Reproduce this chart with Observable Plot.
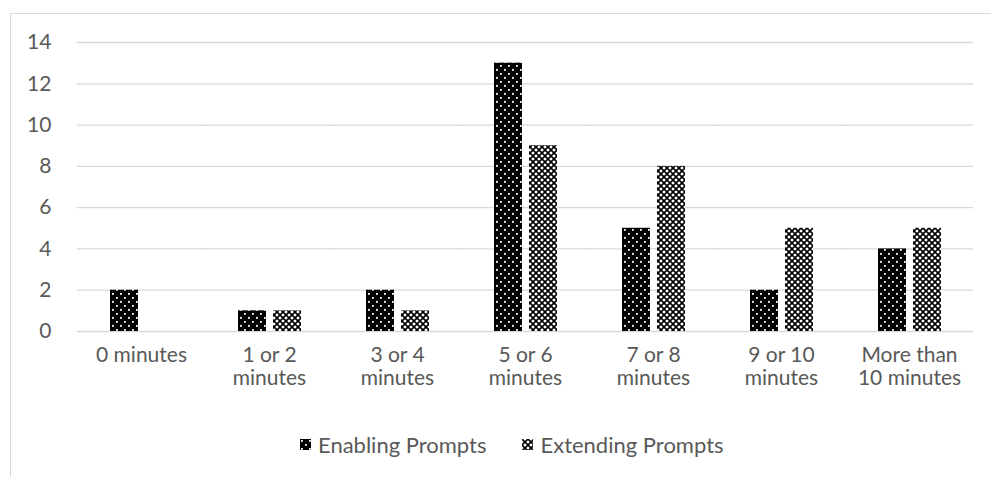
<!DOCTYPE html>
<html><head><meta charset="utf-8">
<script src="https://cdn.jsdelivr.net/npm/d3@7"></script>
<script src="https://cdn.jsdelivr.net/npm/@observablehq/plot@0.6"></script>
<style>
body{margin:0;background:#fff;font-family:Lato,"Open Sans",sans-serif;}
#wrap{position:relative;width:991px;height:477px;overflow:hidden;background:#fff;}
#frame{position:absolute;left:10px;top:13px;width:990px;height:480px;border-left:1px solid #d9d9d9;border-top:1px solid #d9d9d9;}
#chart{position:absolute;left:0;top:0;}
#legend{position:absolute;top:431px;left:300px;display:flex;align-items:center;font-size:22px;color:#595959;white-space:nowrap;}
#legend .item{display:flex;align-items:center;}
#legend .item + .item{margin-left:36px;}
#legend svg{margin-right:7px;}
</style></head>
<body>
<div id="wrap"><div id="frame"></div><div id="chart"></div><div id="legend"></div></div>
<script>
const categories = ["0 minutes", "1 or 2\nminutes", "3 or 4\nminutes", "5 or 6\nminutes", "7 or 8\nminutes", "9 or 10\nminutes", "More than\n10 minutes"];
const series = ["Enabling Prompts", "Extending Prompts"];
const enabling = [2, 1, 2, 13, 5, 2, 4];
const extending = [0, 1, 1, 9, 8, 5, 5];
const yTicks = [0, 2, 4, 6, 8, 10, 12, 14];

const patternIds = {"Enabling Prompts": "url(#dots)", "Extending Prompts": "url(#hatch)"};
const data = categories.flatMap((c, i) => [
  {category: c, series: series[0], value: enabling[i]},
  {category: c, series: series[1], value: extending[i]}
]);

const W = 991, ML = 74, MR = 16;
const halfGap = (W - ML - MR) / categories.length / 4;

const plot = Plot.plot({
  width: W,
  height: 420,
  marginLeft: ML,
  marginRight: MR,
  marginTop: 42,
  marginBottom: 89,
  style: {fontFamily: "Lato, 'Open Sans', sans-serif", fontSize: "21px", color: "#595959", background: "transparent"},
  fx: {domain: categories, paddingInner: 0.5, paddingOuter: 0.25, label: null},
  x: {domain: series, axis: null, paddingInner: 0.2, paddingOuter: 0},
  y: {domain: [0, 14], label: null},
  marks: [
    Plot.ruleY(yTicks, {y: d => d, stroke: "#d9d9d9", strokeWidth: 1.3, insetLeft: -halfGap, insetRight: -halfGap}),
    Plot.barY(data, {fx: "category", x: "series", y: "value", fill: d => patternIds[d.series]}),
    Plot.axisY(yTicks, {tickSize: 0, tickPadding: 26 + halfGap, fill: "#595959", fontSize: 21, label: null, facetAnchor: "left"}),
    Plot.axisFx({anchor: "bottom", tickSize: 0, tickPadding: 14, fill: "#595959", fontSize: 21, lineHeight: 1.1, label: null})
  ]
});

function addPatterns(svgNode) {
  const defs = d3.select(svgNode).insert("defs", ":first-child");
  const p1 = defs.append("pattern").attr("id", "dots").attr("patternUnits", "userSpaceOnUse").attr("width", 8).attr("height", 8);
  p1.append("rect").attr("width", 8).attr("height", 8).attr("fill", "#000");
  p1.append("rect").attr("x", 1).attr("y", 1).attr("width", 1.8).attr("height", 1.8).attr("fill", "#fff");
  p1.append("rect").attr("x", 5).attr("y", 5).attr("width", 1.8).attr("height", 1.8).attr("fill", "#fff");
  const p2 = defs.append("pattern").attr("id", "hatch").attr("patternUnits", "userSpaceOnUse").attr("width", 6).attr("height", 6);
  p2.append("rect").attr("width", 6).attr("height", 6).attr("fill", "#fff");
  p2.append("path").attr("d", "M0,0L6,6M6,0L0,6").attr("stroke", "#000").attr("stroke-width", 1.6).attr("fill", "none");
}
const svgNode = plot.tagName.toLowerCase() === "svg" ? plot : plot.querySelector("svg");
addPatterns(svgNode);
document.getElementById("chart").appendChild(plot);

const legend = d3.select("#legend");
series.forEach(s => {
  const it = legend.append("div").attr("class", "item");
  const sw = it.append("svg").attr("width", 11).attr("height", 11);
  sw.append("rect").attr("width", 11).attr("height", 11).attr("fill", patternIds[s]);
  it.append("span").text(s);
});
</script>
</body></html>
